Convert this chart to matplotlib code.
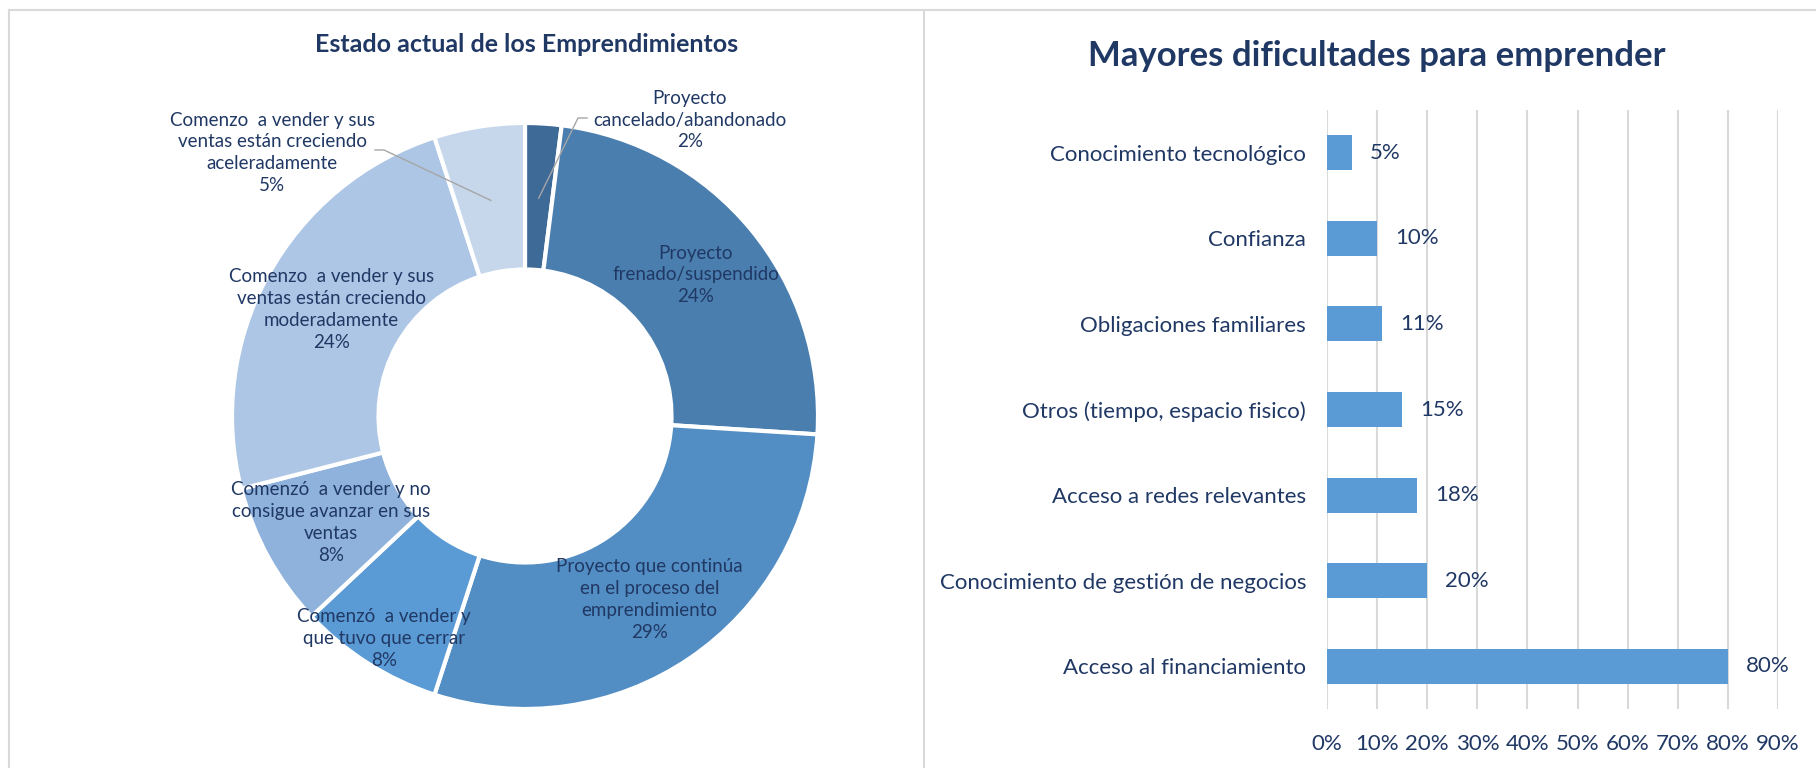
import numpy as np
import matplotlib
matplotlib.use("Agg")
import matplotlib.pyplot as plt
from matplotlib.lines import Line2D

plt.rcParams['font.family'] = ['Lato', 'DejaVu Sans']

# donut data (clockwise from the top)
estado_labels = [
    "Proyecto\ncancelado/abandonado",
    "Proyecto\nfrenado/suspendido",
    "Proyecto que continúa\nen el proceso del\nemprendimiento",
    "Comenzó  a vender y\nque tuvo que cerrar",
    "Comenzó  a vender y no\nconsigue avanzar en sus\nventas",
    "Comenzo  a vender y sus\nventas están creciendo\nmoderadamente",
    "Comenzo  a vender y sus\nventas están creciendo\naceleradamente",
]
estado_values = [2, 24, 29, 8, 8, 24, 5]
estado_colors = ['#3E6A97', '#4A7EAF', '#528DC3', '#5B9BD5', '#8FB2DC', '#ADC6E5', '#C6D7EC']

# bar data
dificultades = [
    "Conocimiento tecnológico",
    "Confianza",
    "Obligaciones familiares",
    "Otros (tiempo, espacio fisico)",
    "Acceso a redes relevantes",
    "Conocimiento de gestión de negocios",
    "Acceso al financiamiento",
]
dificultades_pct = [5, 10, 11, 15, 18, 20, 80]

TXT = '#203864'
W, H = 1816, 768
fig = plt.figure(figsize=(W / 100, H / 100), dpi=100)

# panel borders
fig.add_artist(Line2D([9 / W, 9 / W], [0, 1 - 10 / H], color='#D9D9D9', lw=1.5))
fig.add_artist(Line2D([924 / W, 924 / W], [0, 1 - 10 / H], color='#D9D9D9', lw=1.5))
fig.add_artist(Line2D([9 / W, 1], [1 - 10 / H, 1 - 10 / H], color='#D9D9D9', lw=1.5))

# ---- donut ----
cx, cy, R = 525, 416, 293
ax1 = fig.add_axes([0, 0, 920 / W, 1])
ax1.pie(estado_values, colors=estado_colors, startangle=90, counterclock=False,
        radius=1, wedgeprops=dict(width=0.5, edgecolor='white', linewidth=3))
ax1.set_xlim(-cx / R, (920 - cx) / R)
ax1.set_ylim(-(H - cy) / R, cy / R)
ax1.set_aspect('auto')
ax1.axis('off')

fig.text(527 / W, 1 - 44 / H, "Estado actual de los Emprendimientos", ha='center', va='center',
         fontsize=18, fontweight='bold', color=TXT)

total = sum(estado_values)
cum = np.cumsum([0] + estado_values[:-1])
label_r = [None, 0.755, 0.757, 0.9, 0.755, 0.755, None]
outside_pos = {0: (0.563, 1.01), 6: (-0.863, 0.898)}
for i, (lab, v) in enumerate(zip(estado_labels, estado_values)):
    ang = np.deg2rad((cum[i] + v / 2) / total * 360)
    txt = f"{lab}\n{v}%"
    if i in outside_pos:
        tx, ty = outside_pos[i]
        px, py = 0.745 * np.sin(ang), 0.745 * np.cos(ang)
        if i == 0:
            line_x = [px, (578 - cx) / R, (587 - cx) / R]
            line_y = [py, (cy - 118) / R, (cy - 118) / R]
        else:
            line_x = [px, (384 - cx) / R, (375 - cx) / R]
            line_y = [py, (cy - 150) / R, (cy - 150) / R]
        ax1.plot(line_x, line_y, color='#A6A6A6', lw=1)
        ax1.text(tx, ty, txt, ha='center', va='center', fontsize=13.5, color=TXT, linespacing=1.35)
    else:
        r = label_r[i]
        ax1.text(r * np.sin(ang), r * np.cos(ang), txt, ha='center', va='center',
                 fontsize=13.5, color=TXT, linespacing=1.35)

# ---- bars ----
ax2 = fig.add_axes([1327 / W, (H - 709) / H, (1778 - 1327) / W, (709 - 110) / H])
y = np.arange(len(dificultades))
ax2.barh(y, dificultades_pct, height=0.41, color='#5B9BD5', zorder=3)
ax2.set_ylim(len(dificultades) - 0.5, -0.5)
ax2.set_xlim(0, 90)
ax2.set_xticks(np.arange(0, 91, 10))
ax2.set_xticklabels([f"{t}%" for t in range(0, 91, 10)])
ax2.set_yticks(y)
ax2.set_yticklabels(dificultades)
ax2.tick_params(axis='both', length=0, labelsize=16, labelcolor=TXT)
ax2.tick_params(axis='x', pad=18)
ax2.tick_params(axis='y', pad=15)
ax2.grid(axis='x', color='#D9D9D9', lw=1.5, zorder=0)
for s in ax2.spines.values():
    s.set_visible(False)
for yi, v in zip(y, dificultades_pct):
    ax2.annotate(f"{v}%", (v, yi), xytext=(18, 0), textcoords='offset pixels',
                 ha='left', va='center', fontsize=16, color=TXT)

fig.text(1377 / W, 1 - 56 / H, "Mayores dificultades para emprender", ha='center', va='center',
         fontsize=25, fontweight='bold', color=TXT)

fig.savefig("out.png", dpi=100)
